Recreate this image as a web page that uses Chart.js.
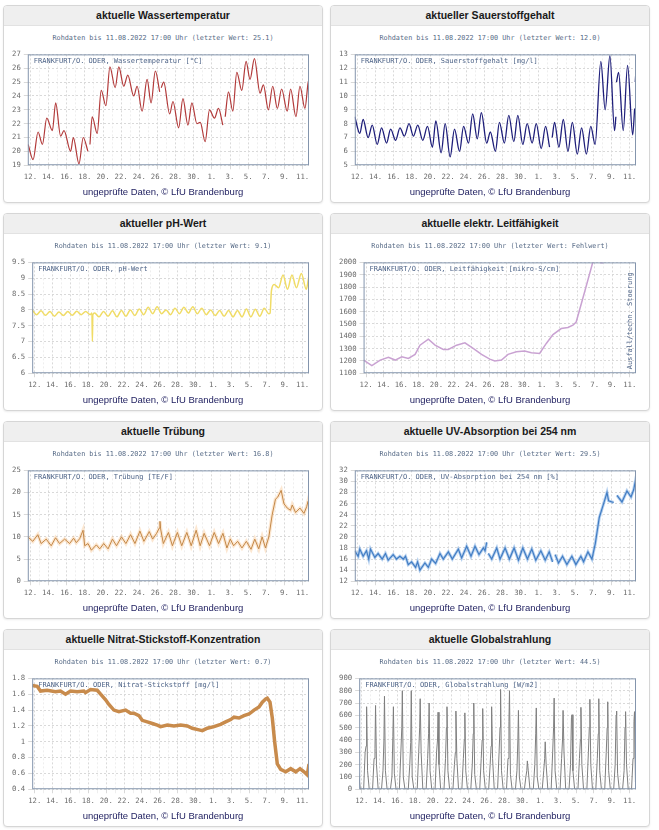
<!DOCTYPE html>
<html lang="de">
<head>
<meta charset="utf-8">
<title>Messstation Frankfurt (Oder)</title>
<script src="https://cdn.jsdelivr.net/npm/chart.js@4.4.1/dist/chart.umd.min.js"></script>
<style>
  body { margin: 0; background: #fff; width: 659px; height: 830px; position: relative; font-family: "Liberation Sans", Arial, sans-serif; }
  .panel { position: absolute; width: 318px; height: 196px; border: 1px solid #d6d6d6; border-radius: 4px; box-shadow: 0 1px 2px rgba(0,0,0,0.08); background: #fff; overflow: hidden; }
  .hd { height: 19px; line-height: 19px; background: #efefef; border-bottom: 1px solid #e2e2e2; text-align: center; font-weight: bold; font-size: 10.5px; color: #1a1a1a; }
  .sub { position: absolute; top: 28px; left: 0; right: 0; height: 10px; line-height: 10px; text-align: center; font: 6.8px "DejaVu Sans Mono", monospace; color: #566a86; white-space: pre; }
  .cv { position: absolute; top: 41px; left: 0; width: 318px; height: 139px; }
  .ft { position: absolute; top: 179px; left: 0; right: 0; line-height: 13px; text-align: center; font-size: 9.5px; color: #1d1d5e; }
</style>
</head>
<body>
<script>
// x = Tag (12 = 12.07., 32 = 1.08.), Zeitraum 11.07. 17:00 bis 11.08. 17:00
const xMin = 11.708, xMax = 42.708;
const xTickDays = [12, 13, 14, 15, 16, 17, 18, 19, 20, 21, 22, 23, 24, 25, 26, 27,
  28, 29, 30, 31, 32, 33, 34, 35, 36, 37, 38, 39, 40, 41, 42];

// Wassertemperatur [°C]
const tempT = [
  11.75, 12.29, 12.84, 13.32, 13.80, 14.42, 14.78, 15.33, 15.70, 16.43,
  16.73, 17.35, 17.82, 18.34, 18.45, 18.56, 18.81, 19.36, 19.80, 20.32,
  20.76, 21.34, 21.74, 22.29, 22.73, 23.39, 23.76, 24.31, 24.86, 25.30,
  25.77, 26.25, 26.35, 26.42, 26.69, 27.35, 27.71, 28.34, 28.81, 29.36,
  29.80, 30.35, 30.72, 31.26, 31.74, 32.29, 32.73, 33.21, 33.35, 33.47,
  33.83, 34.31, 34.75, 35.30, 35.77, 36.21, 36.69, 37.31, 37.68, 38.23,
  38.71, 39.22, 39.69, 40.31, 40.68, 41.27, 41.71, 42.26, 42.62, 42.71
];
const tempV = [
  20.5, 19.4, 21.4, 20.5, 22.4, 21.5, 23.5, 21.1, 21.5, 20.0,
  21.0, 19.1, 21.0, 20.0, null, 20.5, 22.5, 21.3, 24.4, 23.3,
  26.1, 24.6, 26.1, 24.7, 25.5, 24.0, 24.7, 22.9, 25.2, 23.5,
  25.8, 24.3, null, 24.6, 25.0, 22.7, 23.6, 21.7, 23.8, 21.9,
  23.5, 22.0, 22.1, 20.7, 23.0, 22.4, 23.1, 21.9, null, 22.5,
  24.3, 22.9, 25.7, 24.4, 26.5, 25.2, 26.7, 24.2, 24.8, 23.0,
  24.7, 23.1, 24.5, 22.9, 24.5, 22.5, 24.7, 23.1, 25.0, 25.1
];

// Sauerstoffgehalt [mg/l]
const o2T = [
  11.71, 12.26, 12.63, 13.18, 13.63, 14.18, 14.66, 15.21, 15.66, 16.21,
  16.69, 17.17, 17.69, 18.17, 18.65, 19.20, 19.72, 20.27, 20.64, 21.23,
  21.67, 22.22, 22.70, 23.26, 23.70, 24.25, 24.70, 25.21, 25.66, 26.25,
  26.65, 27.21, 27.65, 28.20, 28.68, 29.24, 29.68, 30.23, 30.71, 31.26,
  31.71, 32.26, 32.74, 33.18, 33.32, 33.47, 33.73, 34.21, 34.69, 35.21,
  35.69, 36.24, 36.71, 37.24, 37.72, 38.20, 38.83, 39.31, 39.83, 40.34,
  40.49, 40.52, 40.56, 40.79, 41.30, 41.78, 42.34, 42.56, 42.60, 42.63,
  42.71
];
const o2V = [
  8.5, 7.3, 8.3, 7.0, 7.9, 6.5, 7.7, 6.6, 7.6, 6.8,
  7.7, 7.1, 8.0, 7.1, 7.9, 6.8, 7.8, 6.3, 8.2, 5.9,
  8.0, 5.6, 7.6, 6.0, 7.8, 6.6, 8.7, 6.9, 8.8, 6.6,
  7.4, 6.0, 8.1, 6.6, 8.6, 6.7, 8.6, 6.5, 8.0, 6.6,
  8.0, 6.2, 7.8, 6.3, null, 7.0, 8.1, 6.3, 8.3, 6.0,
  8.1, 5.8, 7.7, 5.8, 7.8, 6.5, 12.5, 9.0, 12.9, 7.5,
  8.5, null, 11.0, 11.7, 7.5, 12.2, 7.2, 9.1, null, 11.0,
  12.0
];

// pH-Wert
const phT = [
  11.71, 12.2, 12.7, 13.2, 13.7, 14.2, 14.7, 15.2, 15.7, 16.2,
  16.7, 17.2, 17.7, 18.2, 18.4, 18.45, 18.5, 18.7, 19.2, 19.7,
  20.2, 20.7, 21.2, 21.7, 22.2, 22.7, 23.2, 23.7, 24.2, 24.7,
  25.2, 25.7, 26.2, 26.7, 27.2, 27.7, 28.2, 28.7, 29.2, 29.7,
  30.2, 30.7, 31.2, 31.7, 32.2, 32.7, 33.2, 33.7, 34.2, 34.7,
  35.2, 35.7, 36.2, 36.7, 37.2, 37.7, 38.2, 38.35, 38.5, 38.8,
  39.3, 39.8, 40.3, 40.8, 41.3, 41.85, 42.4, 42.71
];
const phV = [
  8.0, 7.85, 7.97, 7.83, 7.95, 7.8, 7.93, 7.82, 7.95, 7.83,
  7.96, 7.85, 7.95, 7.85, 7.9, 7.0, 7.85, 7.9, 7.78, 7.95,
  7.8, 7.97, 7.78, 7.98, 7.8, 8.0, 7.82, 8.03, 7.85, 8.08,
  7.88, 8.1, 7.88, 8.0, 7.85, 8.05, 7.88, 8.08, 7.9, 8.1,
  7.88, 8.05, 7.85, 8.0, 7.82, 7.98, 7.8, 7.98, 7.78, 7.98,
  7.78, 8.03, 7.78, 8.02, 7.8, 8.05, 7.88, 7.9, 8.6, 8.8,
  8.7, 9.1, 8.65, 9.1, 8.7, 9.15, 8.65, 9.1
];

// Leitfähigkeit [mikro-S/cm]
const lfT = [
  11.71, 12.65, 13.60, 14.54, 15.30, 16.06, 16.81, 17.57, 18.13, 19.08,
  19.84, 20.78, 21.35, 22.29, 23.24, 24.18, 25.13, 26.07, 26.64, 27.40,
  28.15, 29.10, 30.04, 30.80, 31.74, 32.50, 33.26, 34.20, 34.96, 35.53,
  35.90, 36.85, 37.79, 38.17, 38.40, 38.63, 39.00
];
const lfV = [
  1207, 1162, 1207, 1229, 1207, 1234, 1220, 1253, 1328, 1377,
  1328, 1293, 1293, 1328, 1347, 1301, 1253, 1215, 1199, 1207,
  1253, 1274, 1280, 1266, 1261, 1342, 1414, 1463, 1471, 1490,
  1516, 1758, 2000, 2050, null, 1998, 1998
];

// Trübung [TE/F]
const trT = [
  11.71, 12.26, 12.81, 13.18, 13.74, 14.29, 14.77, 15.21, 15.77, 16.32,
  16.76, 17.06, 17.43, 17.80, 17.98, 18.35, 18.72, 19.27, 19.64, 20.08,
  20.56, 21.04, 21.49, 22.04, 22.52, 23.04, 23.52, 24.07, 24.51, 25.10,
  25.47, 25.91, 26.21, 26.28, 26.35, 26.65, 27.21, 27.65, 28.20, 28.68,
  29.24, 29.72, 30.27, 30.71, 31.15, 31.74, 32.26, 32.74, 33.22, 33.66,
  34.03, 34.40, 34.84, 35.32, 35.80, 36.32, 36.73, 37.17, 37.54, 37.91,
  38.28, 38.65, 39.01, 39.27, 39.64, 39.94, 40.31, 40.67, 40.86, 41.23,
  41.71, 42.15, 42.45, 42.60, 42.71
];
const trV = [
  10.0, 9.0, 10.5, 8.5, 9.5, 8.0, 9.8, 8.5, 9.5, 8.5,
  9.7, 8.7, 9.6, 11.5, 8.0, 8.5, 7.0, 8.2, 7.3, 8.5,
  7.3, 9.5, 8.0, 10.0, 8.5, 10.5, 8.5, 11.3, 9.0, 11.2,
  9.5, 10.8, 12.0, 13.5, 11.8, 8.5, 11.0, 8.0, 11.0, 8.0,
  11.0, 8.0, 11.5, 8.0, 10.8, 8.0, 11.0, 8.5, 10.8, 7.5,
  9.5, 8.0, 9.0, 7.5, 9.0, 7.2, 9.5, 7.3, 10.0, 7.5,
  10.0, 15.0, 18.5, 19.0, 20.5, 17.5, 16.5, 16.0, 17.2, 15.5,
  16.5, 15.3, 16.8, 18.0, 16.8
];

// UV-Absorption bei 254 nm [%]
const uvT = [
  11.71, 12.08, 12.26, 12.63, 13.00, 13.25, 13.44, 13.92, 14.28, 14.73,
  15.09, 15.39, 15.94, 16.31, 16.68, 17.05, 17.30, 17.60, 17.97, 18.41,
  18.63, 18.89, 19.44, 19.81, 20.18, 20.62, 21.10, 21.46, 22.02, 22.46,
  23.12, 23.49, 24.04, 24.52, 24.96, 25.40, 25.88, 26.07, 26.25, 26.34,
  26.43, 26.80, 27.36, 27.72, 28.28, 28.75, 29.27, 29.75, 30.23, 30.74,
  31.22, 31.66, 32.22, 32.70, 33.14, 33.51, 33.65, 33.80, 34.17, 34.61,
  35.09, 35.64, 36.08, 36.63, 36.93, 37.41, 37.85, 38.22, 38.66, 39.14,
  39.51, 39.69, 40.24, 40.40, 40.61, 41.16, 41.71, 42.16, 42.45, 42.63,
  42.71
];
const uvV = [
  17.5, 16.5, 17.8, 16.5, 17.5, 16.0, 17.8, 16.3, 17.0, 16.0,
  17.0, 15.8, 16.8, 16.0, 16.5, 16.0, 16.5, 15.0, 15.5, 14.5,
  15.5, 14.0, 15.3, 14.5, 16.0, 15.2, 17.0, 16.0, 17.3, 16.0,
  17.8, 16.2, 18.3, 16.5, 18.3, 16.8, 18.0, 17.5, 19.0, null,
  17.0, 16.0, 18.0, 16.0, 18.0, 16.0, 18.0, 15.8, 18.0, 16.0,
  17.8, 15.8, 17.5, 15.8, 17.3, 15.5, null, 16.8, 15.3, 16.5,
  15.0, 16.5, 15.0, 16.5, 15.5, 17.3, 16.0, 18.8, 23.5, 26.0,
  28.0, 26.5, 26.2, null, 27.5, 26.3, 28.3, 27.2, 28.5, 30.0,
  29.5
];

// Nitrat-Stickstoff [mg/l]
const noT = [
  11.71, 12.27, 12.64, 13.39, 14.32, 14.88, 15.44, 16.00, 16.75, 17.50,
  17.68, 18.24, 18.99, 19.37, 19.93, 20.30, 20.86, 21.42, 22.17, 22.73,
  23.10, 23.66, 24.03, 24.60, 25.16, 25.72, 26.09, 26.84, 27.58, 28.33,
  29.08, 29.64, 30.39, 30.76, 31.32, 32.07, 32.81, 33.37, 33.94, 34.31,
  34.87, 35.43, 35.99, 36.55, 37.11, 37.48, 37.86, 38.04, 38.34, 38.60,
  38.86, 39.16, 39.54, 40.10, 40.66, 41.22, 41.70, 42.15, 42.52, 42.71
];
const noV = [
  1.71, 1.70, 1.64, 1.65, 1.63, 1.64, 1.60, 1.64, 1.63, 1.64,
  1.62, 1.66, 1.65, 1.60, 1.53, 1.47, 1.40, 1.38, 1.40, 1.36,
  1.36, 1.33, 1.27, 1.25, 1.23, 1.21, 1.19, 1.21, 1.20, 1.21,
  1.20, 1.17, 1.15, 1.14, 1.17, 1.19, 1.22, 1.25, 1.28, 1.31,
  1.30, 1.33, 1.35, 1.40, 1.44, 1.50, 1.54, 1.55, 1.50, 1.30,
  1.00, 0.72, 0.65, 0.62, 0.66, 0.62, 0.66, 0.62, 0.58, 0.72
];

// Globalstrahlung [W/m2]: je Tag Werte um 5, 9, 11:30, 13, 15:30, 20 Uhr
const gsDays = [11, 12, 13, 14, 15, 16, 17, 18, 19, 20, 21, 22, 23, 24, 25, 26,
  27, 28, 29, 30, 31, 32, 33, 34, 35, 36, 37, 38, 39, 40, 41, 42];
const gsHours = [5, 9, 11.5, 13, 15.5, 20];
const gsValues = [
  [null, null, null, null, 130, 0],
  [0, 300, 350, 670, 150, 0],
  [0, 250, 330, 680, 200, 0],
  [0, 150, 400, 755, 150, 0],
  [0, 100, 430, 670, 130, 0],
  [0, 300, 500, 800, 100, 0],
  [0, 200, 380, 800, 100, 0],
  [0, 300, 500, 735, 300, 0],
  [0, 250, 450, 700, 150, 0],
  [0, 300, 400, 625, 200, 0],
  [0, 250, 500, 670, 150, 0],
  [0, 200, 300, 635, 250, 0],
  [0, 250, 400, 620, 150, 0],
  [0, 200, 450, 700, 120, 0],
  [0, 250, 400, 655, 150, 0],
  [0, 200, 350, 670, 250, 0],
  [0, 300, 500, 810, 150, 0],
  [0, 250, 550, 800, 120, 0],
  [0, 150, 400, 640, 100, 0],
  [0, 100, 150, 230, 150, 0],
  [0, 200, 450, 660, 100, 0],
  [0, 150, 250, 385, 200, 0],
  [0, 300, 500, 740, 150, 0],
  [0, 250, 400, 640, 300, 0],
  [0, 200, 580, 605, 150, 0],
  [0, 250, 400, 665, 200, 0],
  [0, 300, 500, 730, 200, 0],
  [0, 250, 450, 735, 150, 0],
  [0, 300, 500, 710, 150, 0],
  [0, 200, 600, 635, 130, 0],
  [0, 150, 500, 630, 200, 0],
  [0, 250, 550, 630, 60, 0]
];

const panels = [
  { id: "c1", left: 3,   top: 5,   title: "aktuelle Wassertemperatur", last: "25.1" },
  { id: "c2", left: 330, top: 5,   title: "aktueller Sauerstoffgehalt", last: "12.0" },
  { id: "c3", left: 3,   top: 213, title: "aktueller pH-Wert", last: "9.1" },
  { id: "c4", left: 330, top: 213, title: "aktuelle elektr. Leitfähigkeit", last: "Fehlwert" },
  { id: "c5", left: 3,   top: 421, title: "aktuelle Trübung", last: "16.8" },
  { id: "c6", left: 330, top: 421, title: "aktuelle UV-Absorption bei 254 nm", last: "29.5" },
  { id: "c7", left: 3,   top: 629, title: "aktuelle Nitrat-Stickstoff-Konzentration", last: "0.7" },
  { id: "c8", left: 330, top: 629, title: "aktuelle Globalstrahlung", last: "44.5" }
];

panels.forEach(p => {
  const div = document.createElement("div");
  div.className = "panel";
  div.style.left = p.left + "px";
  div.style.top = p.top + "px";
  div.innerHTML =
    '<div class="hd">' + p.title + '</div>' +
    '<div class="sub">Rohdaten bis 11.08.2022 17:00 Uhr (letzter Wert: ' + p.last + ')</div>' +
    '<div class="cv"><canvas id="' + p.id + '"></canvas></div>' +
    '<div class="ft">ungeprüfte Daten, © LfU Brandenburg</div>';
  document.body.appendChild(div);
});

function toPoints(ts, vs) {
  return ts.map((t, i) => ({ x: t, y: vs[i] }));
}

const gsPoints = [];
gsDays.forEach((d, i) => {
  gsValues[i].forEach((v, j) => gsPoints.push({ x: d + gsHours[j] / 24, y: v }));
});

// Rahmen, Beschriftung im Diagramm
const framePlugin = {
  id: "frame",
  beforeDatasetsDraw(chart, args, opts) {
    const { ctx, chartArea: a } = chart;
    ctx.save();
    ctx.font = '7px "DejaVu Sans Mono", monospace';
    ctx.fillStyle = "#4e6488";
    ctx.textBaseline = "top";
    ctx.fillText(opts.text, a.left + 6, a.top + 3);
    if (opts.side) {
      ctx.translate(a.right - 6, a.bottom - 4);
      ctx.rotate(-Math.PI / 2);
      ctx.textBaseline = "middle";
      ctx.fillText(opts.side, 0, 0);
    }
    ctx.restore();
  },
  afterDraw(chart) {
    const { ctx, chartArea: a } = chart;
    ctx.save();
    ctx.strokeStyle = "#8495ad";
    ctx.lineWidth = 1;
    ctx.strokeRect(a.left + 0.5, a.top + 0.5, a.width - 1, a.height - 1);
    ctx.restore();
  }
};

const tickFont = { family: "DejaVu Sans Mono", size: 7.3 };

function makeChart(id, datasets, yMin, yMax, yStep, text, side) {
  new Chart(document.getElementById(id), {
    type: "line",
    data: { datasets: datasets },
    plugins: [framePlugin],
    options: {
      responsive: true,
      maintainAspectRatio: false,
      animation: false,
      layout: { padding: { left: 5, right: 13, top: 5, bottom: 2 } },
      elements: { point: { radius: 0 } },
      plugins: {
        legend: { display: false },
        tooltip: { enabled: false },
        frame: { text: text, side: side }
      },
      scales: {
        x: {
          type: "linear",
          min: xMin,
          max: xMax,
          afterBuildTicks: axis => { axis.ticks = xTickDays.map(d => ({ value: d })); },
          border: { display: false, dash: [2, 2] },
          grid: {
            color: ctx => (ctx.tick && ctx.tick.value % 2 === 0) ? "#d9d9d9" : "#eeeeee",
            tickLength: 4
          },
          ticks: {
            autoSkip: false,
            maxRotation: 0,
            padding: 3,
            color: "#6a6a6a",
            font: tickFont,
            callback: v => (v % 2 !== 0) ? "" : (v > 31 ? v - 31 : v) + "."
          }
        },
        y: {
          min: yMin,
          max: yMax,
          border: { display: false, dash: [2, 2] },
          grid: { color: "#d9d9d9", tickLength: 4 },
          ticks: {
            stepSize: yStep,
            autoSkip: false,
            padding: 3,
            color: "#6a6a6a",
            font: tickFont,
            callback: v => String(Math.round(v * 100) / 100)
          }
        }
      }
    }
  });
}

function line(points, color, width, smooth) {
  return {
    data: points,
    borderColor: color,
    borderWidth: width,
    spanGaps: false,
    cubicInterpolationMode: smooth ? "monotone" : "default",
    tension: 0
  };
}

makeChart("c1", [line(toPoints(tempT, tempV), "#b23a3a", 1.2, true)],
  19, 27, 1, "FRANKFURT/O. ODER, Wassertemperatur [°C]");

makeChart("c2", [line(toPoints(o2T, o2V), "#1e1e7a", 1.3, true)],
  5, 13, 1, "FRANKFURT/O. ODER, Sauerstoffgehalt [mg/l]");

makeChart("c3", [line(toPoints(phT, phV), "#f0dc66", 1.5, true)],
  6, 9.5, 0.5, "FRANKFURT/O. ODER, pH-Wert");

makeChart("c4", [line(toPoints(lfT, lfV), "#c9a2d2", 1.5, false)],
  1100, 2000, 100, "FRANKFURT/O. ODER, Leitfähigkeit [mikro-S/cm]", "Ausfall/techn. Stoerung");

makeChart("c5", [
    line(toPoints(trT, trV), "rgba(245,170,90,0.28)", 3.5, false),
    line(toPoints(trT, trV), "#b07b40", 1, false)
  ], 0, 25, 5, "FRANKFURT/O. ODER, Trübung [TE/F]");

makeChart("c6", [
    line(toPoints(uvT, uvV), "rgba(90,150,220,0.45)", 3, false),
    line(toPoints(uvT, uvV), "#2e68b0", 1.2, false)
  ], 12, 32, 2, "FRANKFURT/O. ODER, UV-Absorption bei 254 nm [%]");

makeChart("c7", [line(toPoints(noT, noV), "#c88b4c", 3.5, false)],
  0.4, 1.8, 0.2, "FRANKFURT/O. ODER, Nitrat-Stickstoff [mg/l]");

makeChart("c8", [line(gsPoints, "#7f7f7f", 1, false)],
  0, 900, 100, "FRANKFURT/O. ODER, Globalstrahlung [W/m2]");
</script>
</body>
</html>
